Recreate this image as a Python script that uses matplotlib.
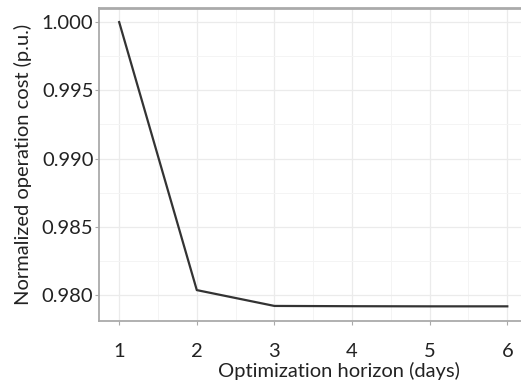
import matplotlib
matplotlib.use("Agg")
import matplotlib.pyplot as plt
from matplotlib.ticker import MultipleLocator

horizon_days = [1, 2, 3, 4, 5, 6]
norm_cost = [1.0000, 0.98037, 0.97921, 0.97919, 0.97918, 0.97918]
x_ticks = [1, 2, 3, 4, 5, 6]
y_ticks = [0.980, 0.985, 0.990, 0.995, 1.000]

plt.rcParams['font.family'] = ['Lato', 'DejaVu Sans']

fig = plt.figure(figsize=(5.21, 3.83), dpi=100)
ax = fig.add_axes([0.190, 0.162, 0.812, 0.817])

ax.plot(horizon_days, norm_cost, color="#333333", linewidth=1.6)

ax.set_xlim(0.74, 6.19)
ax.set_ylim(0.97811, 1.00103)
ax.set_xticks(x_ticks)
ax.set_yticks(y_ticks)
ax.set_yticklabels(["%.3f" % v for v in y_ticks])
ax.xaxis.set_minor_locator(MultipleLocator(0.5))
ax.yaxis.set_minor_locator(MultipleLocator(0.0025))

ax.grid(which="major", color="#ebebeb", linewidth=0.9)
ax.grid(which="minor", color="#f4f4f4", linewidth=0.7)
ax.set_axisbelow(True)

for s in ["left", "bottom"]:
    ax.spines[s].set_color("#aaaaaa")
    ax.spines[s].set_linewidth(1.3)
ax.spines["top"].set_color("#aaaaaa")
ax.spines["top"].set_linewidth(2.0)
ax.spines["right"].set_visible(False)

ax.tick_params(which="major", length=3, color="#aaaaaa", labelsize=14.5,
               labelcolor="#222222", pad=1)
ax.tick_params(which="minor", length=0)
ax.tick_params(axis="x", pad=13)

ax.set_xlabel("Optimization horizon (days)", fontsize=14.5, color="#222222")
ax.xaxis.set_label_coords(0.567, -0.13)
ax.set_ylabel("Normalized operation cost (p.u.)", fontsize=14.5, color="#222222", labelpad=7)

fig.savefig("out.png", dpi=100)
